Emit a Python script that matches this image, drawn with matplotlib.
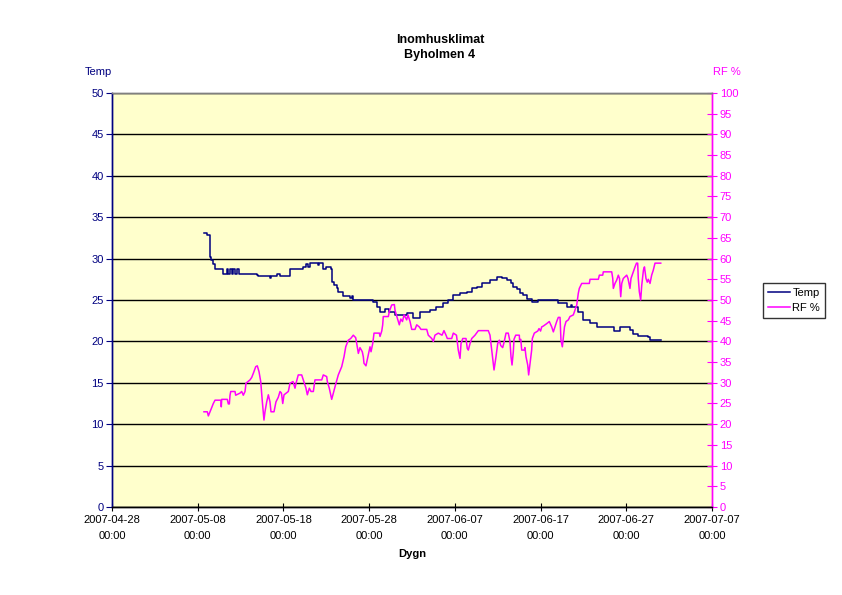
import matplotlib
matplotlib.use("Agg")
import matplotlib.pyplot as plt
import matplotlib.dates as mdates
import pandas as pd
import numpy as np

plt.rcParams['font.family'] = ['Liberation Sans', 'DejaVu Sans']

start = pd.Timestamp('2007-04-28')

# Temperature: (days since 2007-04-28, °C)
temp_day = [10.73, 11.10, 11.45, 11.60, 11.80, 12.00, 12.95, 13.40, 13.50, 13.80, 14.00, 14.10,
            14.30, 14.60, 14.80, 16.90, 17.00, 18.40, 18.60, 19.30, 19.60, 20.77, 22.28, 22.60,
            22.90, 23.10, 23.45, 24.00, 24.20, 24.62, 24.80, 25.00, 25.50, 25.67, 25.90, 26.25,
            26.37, 26.95, 27.80, 27.95, 28.12, 30.45, 30.92, 31.27, 31.85, 32.30, 33.02, 34.42,
            35.12, 35.93, 37.10, 37.80, 38.62, 39.20, 39.78, 40.60, 41.42, 42.00, 42.58, 43.17,
            44.10, 44.92, 45.50, 46.08, 46.50, 46.78, 47.20, 47.60, 48.00, 48.42, 49.00, 49.70,
            51.10, 52.03, 53.08, 53.50, 53.70, 54.25, 54.37, 54.95, 55.77, 56.58, 58.45, 58.60,
            59.27, 59.40, 60.43, 60.78, 61.37, 62.53, 62.77, 64.02]
temp_val = [33.1, 32.8, 30.2, 29.8, 29.4, 28.7, 28.2, 28.7, 28.2, 28.7, 28.2, 28.7,
            28.2, 28.7, 28.2, 28.0, 27.9, 27.6, 27.9, 28.1, 27.9, 28.7, 29.0, 29.4,
            29.0, 29.5, 29.5, 29.2, 29.5, 28.8, 28.7, 29.0, 28.7, 27.2, 26.8, 26.5,
            26.0, 25.5, 25.3, 25.5, 25.0, 24.7, 24.2, 23.6, 23.9, 23.6, 23.2, 23.4,
            22.8, 23.6, 23.8, 24.2, 24.6, 25.0, 25.6, 25.8, 26.0, 26.4, 26.6, 27.1,
            27.4, 27.8, 27.6, 27.4, 27.0, 26.6, 26.3, 25.8, 25.6, 25.1, 24.7, 25.0,
            25.0, 24.6, 24.2, 24.4, 24.2, 24.2, 23.6, 22.6, 22.2, 21.7, 21.7, 21.3,
            21.7, 21.7, 21.4, 20.9, 20.6, 20.5, 20.2, 20.2]

# Relative humidity: (days since 2007-04-28, %)
rf_day = [10.73, 11.12, 11.24, 11.52, 11.63, 11.82, 12.02, 12.72, 12.75, 12.80, 13.45, 13.57,
          13.69, 13.77, 13.85, 14.35, 14.43, 14.93, 15.13, 15.32, 15.52, 15.63, 16.10, 16.30,
          16.49, 16.77, 16.95, 17.15, 17.35, 17.54, 17.73, 17.85, 18.05, 18.24, 18.43, 18.55,
          18.90, 19.13, 19.40, 19.60, 19.77, 19.92, 20.07, 20.57, 20.77, 21.12, 21.35, 21.47,
          21.73, 22.13, 22.32, 22.63, 22.79, 23.02, 23.22, 23.49, 23.68, 24.47, 24.65, 25.05,
          25.12, 25.35, 25.52, 25.63, 25.82, 26.13, 26.40, 26.80, 27.07, 27.27, 27.57, 27.85,
          28.15, 28.43, 28.55, 28.74, 28.93, 29.20, 29.32, 29.40, 29.63, 29.90, 30.10, 30.22,
          30.42, 30.57, 31.19, 31.27, 31.47, 31.58, 31.65, 32.24, 32.35, 32.63, 32.94, 33.02,
          33.29, 33.52, 33.69, 33.89, 34.07, 34.38, 34.53, 34.77, 34.97, 35.35, 35.55, 35.85,
          36.05, 36.72, 36.90, 37.30, 37.49, 37.68, 38.07, 38.50, 38.73, 38.97, 39.12, 39.63,
          39.82, 40.19, 40.40, 40.60, 40.72, 40.92, 41.30, 41.45, 41.57, 41.77, 41.97, 42.35,
          42.74, 43.90, 44.10, 44.30, 44.57, 44.80, 45.00, 45.19, 45.35, 45.58, 45.73, 45.97,
          46.23, 46.43, 46.55, 46.67, 46.82, 46.90, 47.10, 47.52, 47.55, 47.69, 47.80, 48.07,
          48.18, 48.30, 48.50, 48.61, 48.77, 48.96, 49.04, 49.27, 49.67, 49.82, 50.00, 50.13,
          50.32, 50.72, 51.02, 51.30, 51.49, 51.68, 51.88, 52.07, 52.27, 52.38, 52.54, 52.62,
          52.79, 52.97, 53.24, 53.43, 53.82, 54.02, 54.22, 54.40, 54.52, 54.80, 55.69, 55.77,
          56.74, 56.86, 57.25, 57.32, 58.30, 58.42, 58.49, 58.68, 58.88, 59.07, 59.21, 59.35,
          59.47, 59.65, 60.05, 60.20, 60.43, 60.55, 60.82, 61.02, 61.19, 61.33, 61.40, 61.52,
          61.68, 61.80, 62.00, 62.12, 62.30, 62.45, 62.57, 62.77, 62.96, 63.15, 63.35, 64.02]
rf_val = [23.0, 23.0, 22.0, 23.4, 24.0, 25.0, 25.8, 25.8, 24.2, 26.0, 26.0, 24.9,
          24.9, 27.0, 27.9, 27.9, 27.0, 27.5, 27.9, 27.0, 27.9, 29.9, 30.7, 31.3,
          32.3, 33.9, 34.1, 32.7, 30.3, 25.4, 21.0, 23.0, 25.4, 27.1, 25.4, 23.0,
          23.0, 25.4, 26.5, 27.9, 27.5, 25.0, 27.1, 27.9, 29.9, 30.3, 28.7, 29.9,
          31.9, 31.9, 30.7, 28.7, 27.1, 28.7, 27.9, 27.9, 30.7, 30.7, 31.9, 31.5,
          30.3, 28.7, 27.1, 26.0, 27.5, 29.9, 31.9, 33.9, 36.3, 38.7, 40.3, 40.7,
          41.5, 40.9, 39.5, 37.1, 38.5, 37.5, 36.3, 34.7, 34.1, 36.7, 38.7, 37.5,
          39.5, 42.0, 42.0, 41.2, 42.5, 44.0, 46.0, 46.0, 47.2, 48.8, 48.9, 47.5,
          45.6, 44.0, 45.4, 44.8, 46.4, 45.2, 46.4, 44.8, 42.9, 42.9, 44.0, 43.5,
          42.9, 42.9, 41.5, 40.7, 40.0, 41.5, 42.0, 41.5, 42.6, 41.5, 40.7, 40.7,
          42.0, 41.5, 37.9, 35.9, 39.5, 40.7, 40.7, 38.3, 37.9, 39.5, 40.7, 41.5,
          42.6, 42.6, 41.5, 37.9, 33.1, 36.3, 39.5, 40.3, 39.0, 38.5, 39.7, 42.0,
          42.0, 40.0, 36.3, 34.3, 37.5, 40.5, 41.5, 41.5, 40.3, 40.5, 37.9, 37.9,
          38.5, 36.3, 34.3, 31.9, 34.7, 37.9, 40.7, 42.0, 42.5, 43.1, 42.5, 43.5,
          43.7, 44.3, 44.8, 43.5, 42.3, 43.5, 44.8, 45.8, 45.8, 40.3, 38.7, 40.3,
          43.5, 44.8, 45.2, 46.0, 46.4, 47.6, 48.8, 51.6, 52.8, 54.0, 54.0, 55.0,
          55.0, 56.0, 56.0, 56.8, 56.8, 55.2, 52.8, 54.0, 54.8, 56.0, 55.2, 50.8,
          54.0, 55.2, 56.0, 55.2, 52.8, 55.2, 56.8, 58.0, 58.9, 58.9, 55.2, 52.0,
          50.0, 53.5, 57.2, 58.0, 55.2, 54.3, 55.0, 54.0, 56.0, 57.2, 58.9, 58.9]

x_ticks = ['2007-04-28', '2007-05-08', '2007-05-18', '2007-05-28', '2007-06-07',
           '2007-06-17', '2007-06-27', '2007-07-07']
temp_ticks = [0, 5, 10, 15, 20, 25, 30, 35, 40, 45, 50]
rf_ticks = list(range(0, 101, 5))

NAVY = '#000080'
MAG = '#FF00FF'

temp_t = start + pd.to_timedelta(temp_day, unit='D')
rf_t = start + pd.to_timedelta(rf_day, unit='D')
xt = pd.to_datetime(x_ticks)

fig = plt.figure(figsize=(8.42, 5.95), dpi=100)
ax = fig.add_axes([112/842, 1-507/595, 600/842, 414/595])
ax.set_facecolor('#FFFFCC')
ax2 = ax.twinx()

l1, = ax.plot(temp_t, temp_val, color=NAVY, lw=1.1, drawstyle='steps-post', label='Temp', zorder=3)
l2, = ax2.plot(rf_t, rf_val, color=MAG, lw=1.1, label='RF %', zorder=3)

ax.set_xlim(xt[0], xt[-1])
ax.set_ylim(0, 50)
ax2.set_ylim(0, 100)

ax.set_xticks(xt)
ax.set_xticklabels([d + '\n00:00' for d in x_ticks], fontsize=8, linespacing=1.75)
ax.set_yticks(temp_ticks)
ax.set_yticklabels([str(v) for v in temp_ticks], fontsize=8, color=NAVY)
ax2.set_yticks(rf_ticks)
ax2.set_yticklabels([str(v) for v in rf_ticks], fontsize=8, color=MAG)

ax.yaxis.grid(True, color='black', lw=1.0)
ax.set_axisbelow(True)

ax.tick_params(axis='y', direction='out', length=4, color=NAVY, pad=2)
ax.tick_params(axis='x', direction='inout', length=6, color='black', pad=3)
ax2.tick_params(axis='y', direction='inout', length=7, color=MAG, pad=2)

for a in (ax, ax2):
    a.spines['left'].set_color(NAVY)
    a.spines['right'].set_color(MAG)
    a.spines['top'].set_color('#808080')
    a.spines['bottom'].set_color('black')
    for s in a.spines.values():
        s.set_linewidth(1.0)

fig.text(440/842, 1-40/595, 'Inomhusklimat', ha='center', va='center', fontsize=9, fontweight='bold')
fig.text(440/842, 1-55/595, 'Byholmen 4', ha='center', va='center', fontsize=9, fontweight='bold')
fig.text(98/842, 1-72/595, 'Temp', ha='center', va='center', fontsize=8, color=NAVY)
fig.text(727/842, 1-72/595, 'RF %', ha='center', va='center', fontsize=8, color=MAG)
fig.text(412/842, 1-554/595, 'Dygn', ha='center', va='center', fontsize=8, fontweight='bold')

leg = fig.legend(handles=[l1, l2], loc='lower left', bbox_to_anchor=(763/842, 1-318/595),
                 fontsize=8, frameon=True, fancybox=False, edgecolor='black',
                 handlelength=2.0, handletextpad=0.2, borderpad=0.45, labelspacing=0.45,
                 borderaxespad=0)
leg.get_frame().set_linewidth(1.0)

fig.savefig('out.png', dpi=100)
